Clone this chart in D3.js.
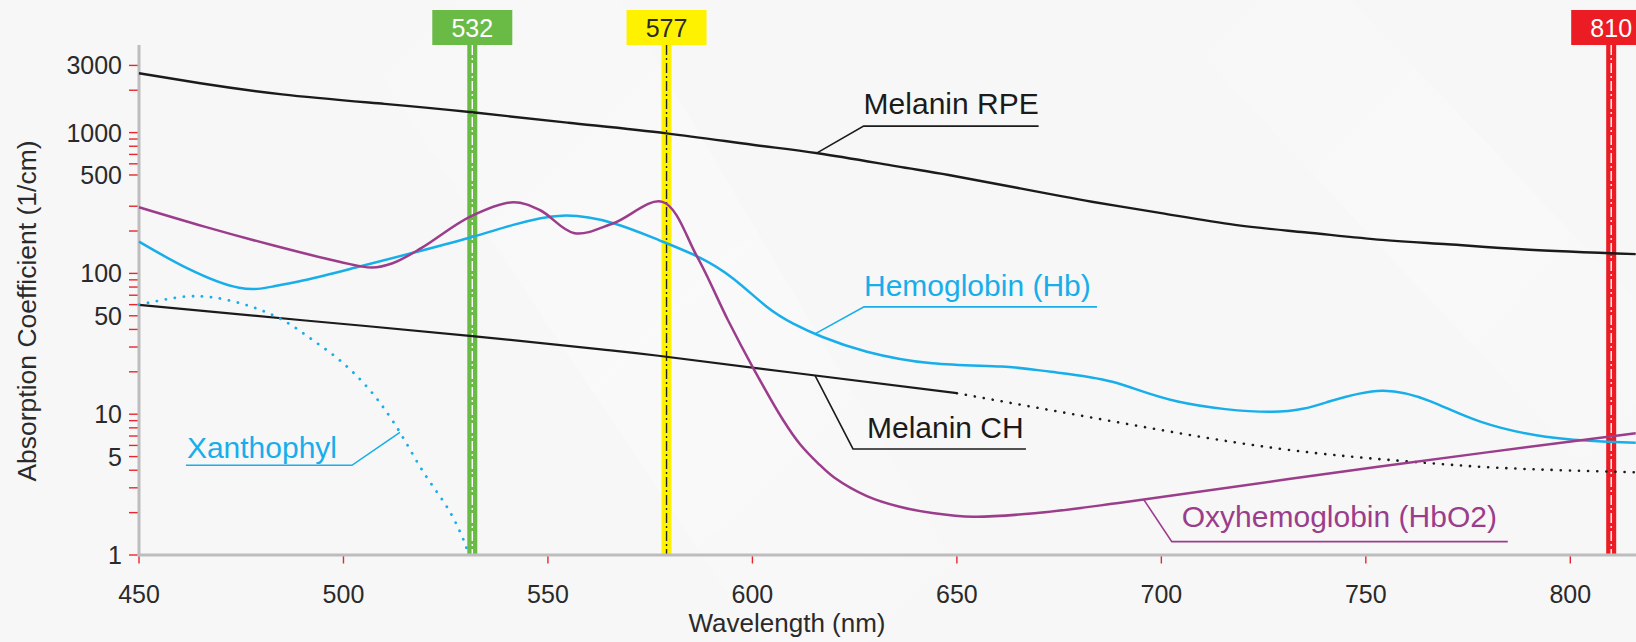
<!DOCTYPE html>
<html>
<head>
<meta charset="utf-8">
<script src="https://cdn.jsdelivr.net/npm/d3@7"></script>
<style>
  html, body { margin: 0; padding: 0; background: #f7f7f7; }
  svg { display: block; font-family: "Liberation Sans", Arial, sans-serif; }
</style>
</head>
<body>
<svg id="chart" width="1636" height="642"></svg>
<script>
// ---------------- DATA ----------------
const xTicks = [450, 500, 550, 600, 650, 700, 750, 800];
const yTickLabels = [1, 5, 10, 50, 100, 500, 1000, 3000];
const yMinorTicks = [1,2,3,4,5,6,7,8,9,10,20,30,40,50,60,70,80,90,100,200,300,500,600,700,800,900,1000,2000,3000];

const rpeNm  = [450, 465, 485, 510, 531.5, 555, 579, 600, 616, 635, 648, 665, 683, 700, 718, 735, 754, 770, 789, 816];
const rpeVal = [2640, 2240, 1870, 1600, 1394, 1175, 988, 820, 713, 578, 500, 404, 323, 268, 221, 196, 173, 161, 148, 137];

const chNm  = [450, 490, 531.5, 563, 577, 610, 650, 689, 728, 761, 785, 816];
const chVal = [59.7, 46.5, 35.9, 28.9, 26, 19.7, 14.1, 8.8, 5.73, 4.6, 4.13, 3.87];
const chSolidEnd = 650;

const hbNm  = [450, 462, 474.5, 483, 491, 503, 517, 531, 541.5, 553.5, 566, 577, 587, 595.5, 603.5, 610, 617, 628, 644, 661, 673, 688, 704, 727, 741, 754, 766, 778, 794, 809, 816];
const hbVal = [168, 108, 79, 81, 90, 110, 140, 180, 221, 257, 227, 173, 130, 91, 58, 44, 35.5, 27.8, 23, 21.8, 20, 17, 12.3, 10.4, 12.3, 14.7, 12.3, 8.85, 6.92, 6.38, 6.28];

const hbo2Nm  = [450, 466, 482.5, 499, 507, 512, 519, 531, 541.5, 548, 556.5, 566, 578, 586.5, 594, 600, 607.5, 611.5, 616, 620, 628, 636, 644, 654, 669, 690, 753, 816];
const hbo2Val = [295, 215, 159, 121, 110, 118, 151, 253, 320, 282, 193, 227, 322, 131, 46.7, 21.8, 9.1, 6.2, 4.5, 3.55, 2.62, 2.2, 1.99, 1.87, 1.98, 2.35, 4.24, 7.32];

const xanNm  = [450, 452.4, 461.2, 468, 477, 485.1, 492.5, 499.8, 506.3, 512, 519.5, 526, 529.5, 530.6];
const xanVal = [60, 62, 68.4, 67.6, 58.7, 46.7, 33.6, 23.2, 15.0, 9.0, 3.9, 2.03, 1.25, 1];

const laserNm     = [531.5, 579, 810];
const laserLabels = ["532", "577", "810"];

const annoTexts  = ["Melanin RPE", "Hemoglobin (Hb)", "Melanin CH", "Xanthophyl", "Oxyhemoglobin (HbO2)"];
const annoSeries = ["rpe", "hb", "ch", "xan", "hbo2"];
const annoAtNm   = [615.7, 615.3, 615.3, 513.8, 695.7];

// ---------------- STYLE / LAYOUT ----------------
const C = {
  axis: "#bdbdc0", tick: "#e8262d", text: "#2a2a2a",
  black: "#1b1b1b", hb: "#17aeea", hbo2: "#9b3d8b",
  laser: ["#6abb46", "#fff200", "#ec1c24"],
  laserText: ["#ffffff", "#2a2a2a", "#ffffff"],
  laserDash: ["#ffffff", "#222222", "#ffffff"]
};
const annoColor = [C.black, C.hb, C.black, C.hb, C.hbo2];
const annoLayout = [
  {dx: 47, dy: -27, len: 175, tx: 0, ty: -12},
  {dx: 49, dy: -27, len: 233, tx: 0, ty: -11},
  {dx: 38, dy: 73.5, len: 173, tx: 14, ty: -11},
  {dx: -48, dy: 33, len: -166, tx: 1, ty: -7.5},
  {dx: 28, dy: 42, len: 336, tx: 10, ty: -15}
];

const W = 1636, H = 642;
const svg = d3.select("#chart");

const x = d3.scaleLinear().domain([450, 800]).range([139, 1570.3]);
const y = d3.scaleLog().domain([1, 1000]).range([555, 132.6]);
const yTop = 45;

// background
svg.append("rect").attr("width", W).attr("height", H).attr("fill", "#f7f7f7");
const defs = svg.append("defs");
const g1 = defs.append("linearGradient").attr("id", "streak").attr("x1", 0).attr("y1", 0).attr("x2", 1).attr("y2", 1);
g1.append("stop").attr("offset", "0").attr("stop-color", "#ffffff").attr("stop-opacity", 0);
g1.append("stop").attr("offset", "0.5").attr("stop-color", "#ffffff").attr("stop-opacity", 0.7);
g1.append("stop").attr("offset", "1").attr("stop-color", "#ffffff").attr("stop-opacity", 0);
svg.append("path").attr("d", "M330,0 L620,0 L1000,642 L760,642 Z").attr("fill", "url(#streak)").attr("opacity", 0.45);
svg.append("path").attr("d", "M1150,0 L1350,0 L1636,300 L1636,520 Z").attr("fill", "url(#streak)").attr("opacity", 0.4);

// ---------------- LASER BARS ----------------
const lasers = svg.append("g");
laserNm.forEach((nm, i) => {
  const cx = x(nm);
  lasers.append("rect").attr("x", cx - 5).attr("y", yTop).attr("width", 10).attr("height", y(1) - yTop)
    .attr("fill", C.laser[i]);
  lasers.append("line").attr("x1", cx).attr("x2", cx).attr("y1", yTop).attr("y2", y(1))
    .attr("stroke", C.laserDash[i]).attr("stroke-width", 1.4).attr("stroke-dasharray", "10 3 2 3");
  lasers.append("rect").attr("x", cx - 40).attr("y", 10).attr("width", 80).attr("height", 35)
    .attr("fill", C.laser[i]);
  lasers.append("text").attr("x", cx).attr("y", 36.5).attr("text-anchor", "middle")
    .attr("font-size", 25).attr("fill", C.laserText[i]).text(laserLabels[i]);
});

// ---------------- AXES ----------------
const axes = svg.append("g");
axes.selectAll(".ytick").data(yMinorTicks).enter().append("line")
  .attr("x1", 129).attr("x2", 139).attr("y1", d => y(d)).attr("y2", d => y(d))
  .attr("stroke", C.tick).attr("stroke-width", 1.4);
axes.selectAll(".xtick").data(xTicks).enter().append("line")
  .attr("x1", d => x(d)).attr("x2", d => x(d)).attr("y1", 555).attr("y2", 563.5)
  .attr("stroke", C.tick).attr("stroke-width", 1.4);
axes.append("line").attr("x1", 139).attr("x2", 139).attr("y1", yTop).attr("y2", 556.5)
  .attr("stroke", C.axis).attr("stroke-width", 3);
axes.append("line").attr("x1", 137.5).attr("x2", W).attr("y1", 555).attr("y2", 555)
  .attr("stroke", C.axis).attr("stroke-width", 3);
axes.selectAll(".ylab").data(yTickLabels).enter().append("text")
  .attr("x", 122).attr("y", d => y(d)).attr("dy", "0.36em").attr("text-anchor", "end")
  .attr("font-size", 25).attr("fill", C.text).text(d => d);
axes.selectAll(".xlab").data(xTicks).enter().append("text")
  .attr("x", d => x(d)).attr("y", 603).attr("text-anchor", "middle")
  .attr("font-size", 25).attr("fill", C.text).text(d => d);
axes.append("text").attr("x", 787).attr("y", 632).attr("text-anchor", "middle")
  .attr("font-size", 26).attr("fill", C.text).text("Wavelength (nm)");
axes.append("text").attr("transform", "translate(36,311) rotate(-90)").attr("text-anchor", "middle")
  .attr("font-size", 26.5).attr("fill", C.text).text("Absorption Coefficient (1/cm)");

// ---------------- CURVES ----------------
const line = d3.line().x(d => x(d[0])).y(d => y(d[1])).curve(d3.curveNatural);
const lineCR = d3.line().x(d => x(d[0])).y(d => y(d[1])).curve(d3.curveCatmullRom.alpha(0.5));
const zip = (a, b) => a.map((v, i) => [v, b[i]]);
const curves = svg.append("g").attr("fill", "none");
const paths = {};

paths.rpe = curves.append("path").datum(zip(rpeNm, rpeVal)).attr("d", line)
  .attr("stroke", C.black).attr("stroke-width", 2.4);

const chAll = zip(chNm, chVal);
paths.ch = curves.append("path").datum(chAll.filter(d => d[0] <= chSolidEnd)).attr("d", line)
  .attr("stroke", C.black).attr("stroke-width", 2.2);
curves.append("path").datum(chAll.filter(d => d[0] >= chSolidEnd)).attr("d", line)
  .attr("stroke", C.black).attr("stroke-width", 2.6).attr("stroke-linecap", "round")
  .attr("stroke-dasharray", "0.1 9");

paths.xan = curves.append("path").datum(zip(xanNm, xanVal)).attr("d", lineCR)
  .attr("stroke", C.hb).attr("stroke-width", 2.8).attr("stroke-linecap", "round")
  .attr("stroke-dasharray", "0.1 9");

paths.hb = curves.append("path").datum(zip(hbNm, hbVal)).attr("d", line)
  .attr("stroke", C.hb).attr("stroke-width", 2.5);

paths.hbo2 = curves.append("path").datum(zip(hbo2Nm, hbo2Val)).attr("d", lineCR)
  .attr("stroke", C.hbo2).attr("stroke-width", 2.5);

// ---------------- ANNOTATIONS ----------------
function pointAtX(pathSel, px) {
  const node = pathSel.node();
  let lo = 0, hi = node.getTotalLength();
  for (let k = 0; k < 40; k++) {
    const mid = (lo + hi) / 2;
    if (node.getPointAtLength(mid).x < px) lo = mid; else hi = mid;
  }
  return node.getPointAtLength((lo + hi) / 2);
}
const annos = svg.append("g");
annoTexts.forEach((t, i) => {
  const p = pointAtX(paths[annoSeries[i]], x(annoAtNm[i]));
  const L = annoLayout[i];
  const ux = p.x + L.dx, uy = p.y + L.dy;
  const ux2 = ux + L.len;
  annos.append("path")
    .attr("d", `M${p.x},${p.y} L${ux},${uy} L${ux2},${uy}`)
    .attr("fill", "none").attr("stroke", annoColor[i]).attr("stroke-width", 1.6);
  const tx = Math.min(ux, ux2) + L.tx;
  annos.append("text").attr("x", tx).attr("y", uy + L.ty)
    .attr("font-size", 30).attr("fill", annoColor[i]).text(t);
});
</script>
</body>
</html>
